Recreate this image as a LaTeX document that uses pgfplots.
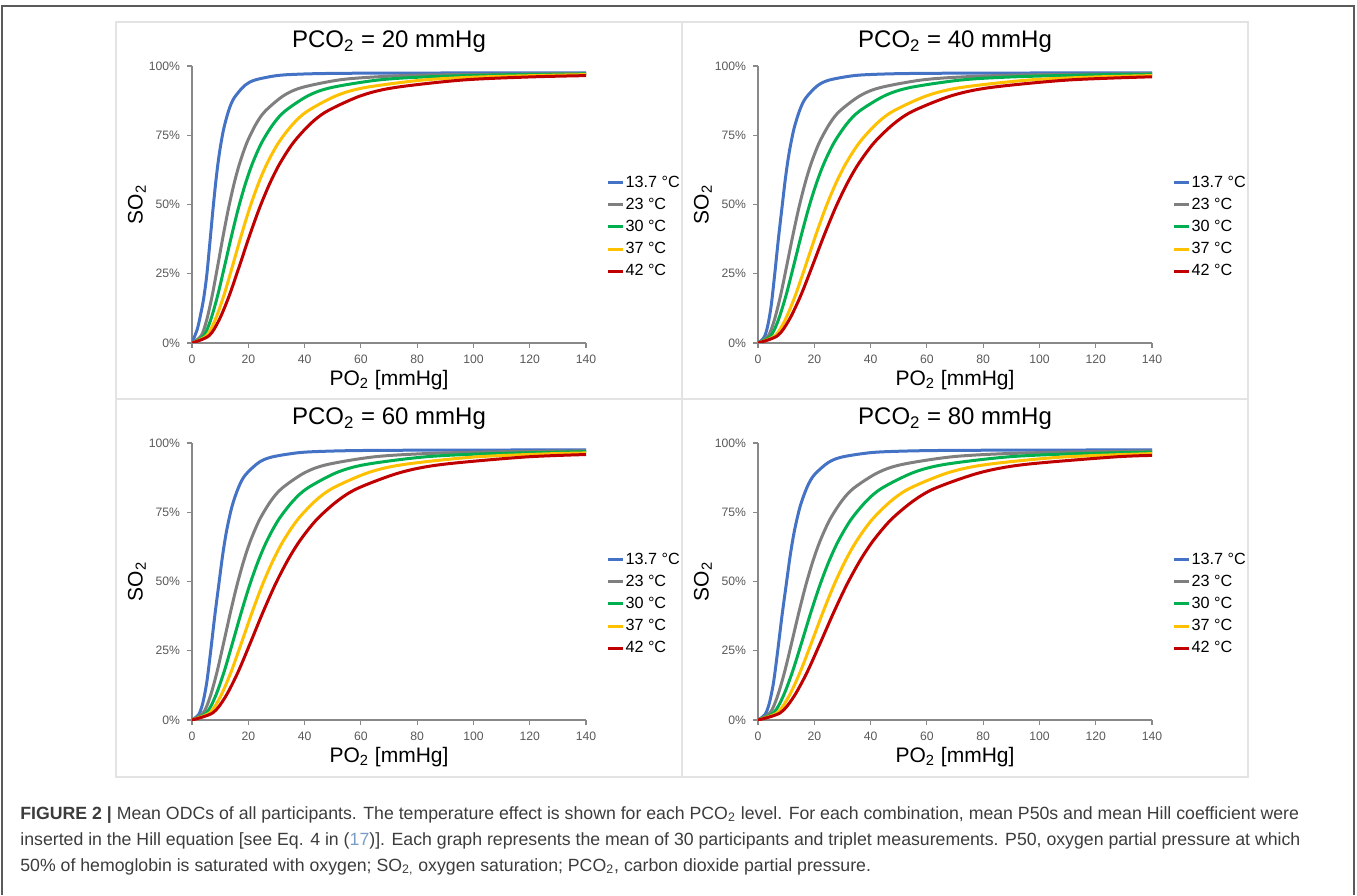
\documentclass[border=0pt]{standalone}
\usepackage{fontspec}
\setmainfont{Liberation Sans}
\usepackage{pgfplots}
\pgfplotsset{compat=1.18}

\definecolor{cBlue}{HTML}{4472C4}
\definecolor{cGray}{HTML}{7F7F7F}
\definecolor{cGreen}{HTML}{00B050}
\definecolor{cYellow}{HTML}{FFC000}
\definecolor{cRed}{HTML}{C00000}
\definecolor{axgray}{HTML}{898989}
\definecolor{ticktext}{HTML}{595959}
\definecolor{panelline}{HTML}{E3E3E3}
\definecolor{frameline}{HTML}{5A5A5A}
\definecolor{captext}{HTML}{3C3C3C}
\definecolor{linkblue}{HTML}{7A9CC8}

\pgfplotsset{
  odc/.style={
    scale only axis, width=197bp, height=138.5bp,
    xmin=0, xmax=140, ymin=0, ymax=100,
    axis lines*=left,
    axis line style={draw=axgray, line width=0.7bp},
    xtick={0,20,...,140}, ytick={0,25,50,75,100},
    yticklabels={0\%,25\%,50\%,75\%,100\%},
    tick align=outside, major tick length=2.5bp,
    tick style={draw=axgray, line width=0.6bp},
    ticklabel style={font=\fontsize{6.1bp}{7.5bp}\selectfont, text=ticktext},
    /pgf/number format/assume math mode=true,
    % the default title style already adds yshift=6pt, cancel it
    title style={at={(axis description cs:0.5,1.0866)}, anchor=center, yshift=-6pt,
      font=\fontsize{12bp}{14bp}\selectfont},
    xlabel={PO\textsubscript{2} [mmHg]},
    ylabel={SO\textsubscript{2}},
    xlabel style={at={(axis description cs:0.5,-0.1336)}, anchor=center,
      font=\fontsize{10.5bp}{12bp}\selectfont},
    ylabel style={at={(axis description cs:-0.1396,0.5)}, anchor=center,
      font=\fontsize{10.5bp}{12bp}\selectfont},
    legend style={at={(axis description cs:1.051,0.419)}, anchor=west,
      draw=none, fill=none, inner sep=0pt,
      font=\fontsize{8.1bp}{9bp}\selectfont, row sep=2.4bp,
      nodes={inner xsep=0.5bp, inner ysep=0pt, text height=6.6bp, text depth=2.1bp}},
    legend cell align=left,
    legend image code/.code={\draw[#1, line width=1.5bp] (0bp,0bp) -- (7.5bp,0bp);},
    every axis plot/.append style={line width=1.5bp, smooth, mark=none, line join=round},
  }
}

\begin{document}
\begin{tikzpicture}[x=0.5bp,y=0.5bp]
\useasboundingbox (0,0) rectangle (1357,895);
% outer frame and panel grid
\draw[frameline, line width=0.8bp] (2,0) -- (2,889) -- (1354,889) -- (1354,0);
\draw[panelline, line width=0.8bp] (116,118) rectangle (1248,873);
\draw[panelline, line width=0.8bp] (682,118) -- (682,873);
\draw[panelline, line width=0.8bp] (116,496) -- (1248,496);

% PCO2 = 20
\begin{axis}[odc, at={(96bp,276bp)}, title={PCO\textsubscript{2} = 20 mmHg}]
\addplot[cBlue] coordinates {(0,0) (1.88,5) (3,10) (4.13,16) (5.25,24.5) (6.38,36.5) (7.5,48.75) (8.63,59.8) (9.75,68.63) (11.25,77.24) (13.13,84.22) (15,88.51) (18.75,92.98) (22.5,94.97) (30,96.51) (37.5,97.02) (48.75,97.3) (75,97.45) (140,97.48)};
\addplot[cGray] coordinates {(0,0) (3.25,2.58) (5.2,8.25) (7.15,17.01) (9.1,27.64) (11.05,38.6) (13,48.75) (14.95,57.51) (16.9,64.76) (19.5,72.31) (22.75,79.05) (26,83.69) (32.5,89.26) (39,92.21) (52,94.92) (65,96.04) (84.5,96.76) (140,97.3)};
\addplot[cGreen] coordinates {(0,0) (4.13,2.58) (6.6,8.25) (9.08,17.01) (11.55,27.64) (14.03,38.6) (16.5,48.75) (18.98,57.51) (21.45,64.76) (24.75,72.31) (28.88,79.05) (33,83.69) (41.25,89.26) (49.5,92.21) (66,94.92) (82.5,96.04) (107.25,96.76) (140,97.13)};
\addplot[cYellow] coordinates {(0,0) (5.13,2.58) (8.2,8.25) (11.28,17.01) (14.35,27.64) (17.43,38.6) (20.5,48.75) (23.58,57.51) (26.65,64.76) (30.75,72.31) (35.88,79.05) (41,83.69) (51.25,89.26) (61.5,92.21) (82,94.92) (102.5,96.04) (133.25,96.76) (140,96.84)};
\addplot[cRed] coordinates {(0,0) (6,2.58) (9.6,8.25) (13.2,17.01) (16.8,27.64) (20.4,38.6) (24,48.75) (27.6,57.51) (31.2,64.76) (36,72.31) (42,79.05) (48,83.69) (60,89.26) (72,92.21) (96,94.92) (120,96.04) (140,96.52)};
\legend{13.7 °C, 23 °C, 30 °C, 37 °C, 42 °C}
\end{axis}

% PCO2 = 40
\begin{axis}[odc, at={(379bp,276bp)}, title={PCO\textsubscript{2} = 40 mmHg}]
\addplot[cBlue] coordinates {(0,0) (2.13,2) (3.4,6) (4.68,13.5) (5.95,25) (7.23,37.5) (8.5,48.75) (9.78,59.8) (11.05,68.63) (12.75,77.24) (14.88,84.22) (17,88.51) (21.25,92.98) (25.5,94.97) (34,96.51) (42.5,97.02) (55.25,97.3) (85,97.45) (140,97.48)};
\addplot[cGray] coordinates {(0,0) (3.63,2.58) (5.8,8.25) (7.98,17.01) (10.15,27.64) (12.33,38.6) (14.5,48.75) (16.68,57.51) (18.85,64.76) (21.75,72.31) (25.38,79.05) (29,83.69) (36.25,89.26) (43.5,92.21) (58,94.92) (72.5,96.04) (94.25,96.76) (140,97.23)};
\addplot[cGreen] coordinates {(0,0) (4.5,2.58) (7.2,8.25) (9.9,17.01) (12.6,27.64) (15.3,38.6) (18,48.75) (20.7,57.51) (23.4,64.76) (27,72.31) (31.5,79.05) (36,83.69) (45,89.26) (54,92.21) (72,94.92) (90,96.04) (117,96.76) (140,97.03)};
\addplot[cYellow] coordinates {(0,0) (6,2.58) (9.6,8.25) (13.2,17.01) (16.8,27.64) (20.4,38.6) (24,48.75) (27.6,57.51) (31.2,64.76) (36,72.31) (42,79.05) (48,83.69) (60,89.26) (72,92.21) (96,94.92) (120,96.04) (140,96.52)};
\addplot[cRed] coordinates {(0,0) (6.88,2.58) (11,8.25) (15.13,17.01) (19.25,27.64) (23.38,38.6) (27.5,48.75) (31.63,57.51) (35.75,64.76) (41.25,72.31) (48.13,79.05) (55,83.69) (68.75,89.26) (82.5,92.21) (110,94.92) (140,96.1)};
\legend{13.7 °C, 23 °C, 30 °C, 37 °C, 42 °C}
\end{axis}

% PCO2 = 60
\begin{axis}[odc, at={(96bp,87.5bp)}, title={PCO\textsubscript{2} = 60 mmHg}]
\addplot[cBlue] coordinates {(0,0) (2.38,2) (3.8,6) (5.23,13.5) (6.65,25) (8.08,37.5) (9.5,48.75) (10.93,59.8) (12.35,68.63) (14.25,77.24) (16.63,84.22) (19,88.51) (23.75,92.98) (28.5,94.97) (38,96.51) (47.5,97.02) (61.75,97.3) (95,97.45) (140,97.48)};
\addplot[cGray] coordinates {(0,0) (4,2.58) (6.4,8.25) (8.8,17.01) (11.2,27.64) (13.6,38.6) (16,48.75) (18.4,57.51) (20.8,64.76) (24,72.31) (28,79.05) (32,83.69) (40,89.26) (48,92.21) (64,94.92) (80,96.04) (104,96.76) (140,97.15)};
\addplot[cGreen] coordinates {(0,0) (5.13,2.58) (8.2,8.25) (11.28,17.01) (14.35,27.64) (17.43,38.6) (20.5,48.75) (23.58,57.51) (26.65,64.76) (30.75,72.31) (35.88,79.05) (41,83.69) (51.25,89.26) (61.5,92.21) (82,94.92) (102.5,96.04) (133.25,96.76) (140,96.84)};
\addplot[cYellow] coordinates {(0,0) (6.25,2.58) (10,8.25) (13.75,17.01) (17.5,27.64) (21.25,38.6) (25,48.75) (28.75,57.51) (32.5,64.76) (37.5,72.31) (43.75,79.05) (50,83.69) (62.5,89.26) (75,92.21) (100,94.92) (125,96.04) (140,96.41)};
\addplot[cRed] coordinates {(0,0) (7.38,2.58) (11.8,8.25) (16.23,17.01) (20.65,27.64) (25.08,38.6) (29.5,48.75) (33.93,57.51) (38.35,64.76) (44.25,72.31) (51.63,79.05) (59,83.69) (73.75,89.26) (88.5,92.21) (118,94.92) (140,95.83)};
\legend{13.7 °C, 23 °C, 30 °C, 37 °C, 42 °C}
\end{axis}

% PCO2 = 80
\begin{axis}[odc, at={(379bp,87.5bp)}, title={PCO\textsubscript{2} = 80 mmHg}]
\addplot[cBlue] coordinates {(0,0) (2.5,2) (4,6) (5.5,13.5) (7,25) (8.5,37.5) (10,48.75) (11.5,59.8) (13,68.63) (15,77.24) (17.5,84.22) (20,88.51) (25,92.98) (30,94.97) (40,96.51) (50,97.02) (65,97.3) (100,97.45) (140,97.48)};
\addplot[cGray] coordinates {(0,0) (4.25,2.58) (6.8,8.25) (9.35,17.01) (11.9,27.64) (14.45,38.6) (17,48.75) (19.55,57.51) (22.1,64.76) (25.5,72.31) (29.75,79.05) (34,83.69) (42.5,89.26) (51,92.21) (68,94.92) (85,96.04) (110.5,96.76) (140,97.1)};
\addplot[cGreen] coordinates {(0,0) (5.5,2.58) (8.8,8.25) (12.1,17.01) (15.4,27.64) (18.7,38.6) (22,48.75) (25.3,57.51) (28.6,64.76) (33,72.31) (38.5,79.05) (44,83.69) (55,89.26) (66,92.21) (88,94.92) (110,96.04) (140,96.71)};
\addplot[cYellow] coordinates {(0,0) (6.75,2.58) (10.8,8.25) (14.85,17.01) (18.9,27.64) (22.95,38.6) (27,48.75) (31.05,57.51) (35.1,64.76) (40.5,72.31) (47.25,79.05) (54,83.69) (67.5,89.26) (81,92.21) (108,94.92) (140,96.17)};
\addplot[cRed] coordinates {(0,0) (7.88,2.58) (12.6,8.25) (17.33,17.01) (22.05,27.64) (26.78,38.6) (31.5,48.75) (36.23,57.51) (40.95,64.76) (47.25,72.31) (55.13,79.05) (63,83.69) (78.75,89.26) (94.5,92.21) (126,94.92) (140,95.52)};
\legend{13.7 °C, 23 °C, 30 °C, 37 °C, 42 °C}
\end{axis}

% caption
\begin{scope}[every node/.style={anchor=base west, inner sep=0pt, text=captext, font=\fontsize{8.85bp}{10bp}\selectfont}]
\node at (20,76) {\textbf{FIGURE 2 |} Mean ODCs of all participants. The temperature effect is shown for each PCO\textsubscript{2} level. For each combination, mean P50s and mean Hill coefficient were};
\node at (20,50) {inserted in the Hill equation [see Eq. 4 in (\textcolor{linkblue}{17})]. Each graph represents the mean of 30 participants and triplet measurements. P50, oxygen partial pressure at which};
\node at (20,24) {50\% of hemoglobin is saturated with oxygen; SO\textsubscript{2,} oxygen saturation; PCO\textsubscript{2}, carbon dioxide partial pressure.};
\end{scope}
\end{tikzpicture}
\end{document}
